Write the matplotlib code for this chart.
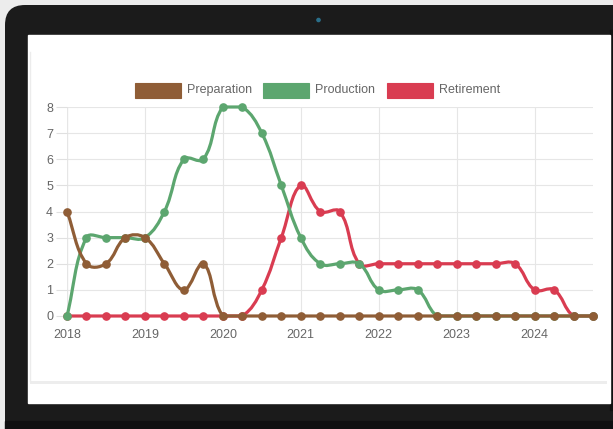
import matplotlib.pyplot as plt
import numpy as np
import pandas as pd
from matplotlib.path import Path
from matplotlib.patches import PathPatch, FancyBboxPatch, Rectangle, Circle

plt.rcParams['font.family'] = ['Liberation Sans', 'DejaVu Sans']

# Quarterly periods 2018Q1 .. 2024Q4
quarters = pd.period_range('2018Q1', '2024Q4', freq='Q')
x = quarters.year + (quarters.quarter - 1) / 4.0

preparation = [4, 2, 2, 3, 3, 2, 1, 2, 0, 0, 0, 0, 0, 0, 0, 0,
               0, 0, 0, 0, 0, 0, 0, 0, 0, 0, 0, 0]
production = [0, 3, 3, 3, 3, 4, 6, 6, 8, 8, 7, 5, 3, 2, 2, 2,
              1, 1, 1, 0, 0, 0, 0, 0, 0, 0, 0, 0]
retirement = [0, 0, 0, 0, 0, 0, 0, 0, 0, 0, 1, 3, 5, 4, 4, 2,
              2, 2, 2, 2, 2, 2, 2, 2, 1, 1, 0, 0]

series = [('Preparation', preparation, '#8f5d36'),
          ('Production', production, '#5ca66f'),
          ('Retirement', retirement, '#d93c51')]
year_ticks = [2018, 2019, 2020, 2021, 2022, 2023, 2024]

W, H = 613, 429
fig = plt.figure(figsize=(W / 100, H / 100), dpi=100)

# background: laptop frame in pixel coords
bg = fig.add_axes([0, 0, 1, 1])
bg.set_xlim(0, W)
bg.set_ylim(H, 0)
bg.axis('off')
bg.add_patch(Rectangle((0, 0), W, H, color='#ececec'))
bg.add_patch(FancyBboxPatch((5, 5), W + 40, 440, boxstyle='round,pad=0,rounding_size=20',
                            fc='#1b1b1b', ec='none'))
bg.add_patch(Rectangle((5, 421), W, 10, color='#0f0f10'))
bg.add_patch(Rectangle((610, 30), 4, 380, color='#111111'))
bg.add_patch(Circle((318.5, 20), 1.6, color='#2a6f8a'))
bg.add_patch(Rectangle((28, 35), 582, 368, color='white'))
# card outline
bg.plot([30, 30], [52, 381], color='#ececec', lw=1)
bg.add_patch(Rectangle((30, 380.5), 577, 3, color='#ededed', lw=0))

# legend
legend_boxes = [(135, 187), (263, 315), (387, 439)]
for (name, vals, col), (bx, tx) in zip(series, legend_boxes):
    bg.add_patch(Rectangle((bx, 83), 46, 15, fc=col, ec=col, lw=0.8))
    bg.text(tx, 90, name, fontsize=9, color='#666666', va='center', ha='left')

# plot area
x0, x1 = 2018, 2024.75
ax = fig.add_axes([67 / W, (H - 316) / H, 526 / W, 209 / H])
ax.set_xlim(x0, x1)
ax.set_ylim(0, 8)
sx = 526 / (x1 - x0)
sy = 209 / 8.0


def bezier_path(xs, ys, t=0.4):
    px = np.asarray(xs, float) * sx
    py = np.asarray(ys, float) * sy
    n = len(px)
    cps = []
    for i in range(n):
        pp = (px[max(i - 1, 0)], py[max(i - 1, 0)])
        pn = (px[min(i + 1, n - 1)], py[min(i + 1, n - 1)])
        d01 = np.hypot(px[i] - pp[0], py[i] - pp[1])
        d12 = np.hypot(pn[0] - px[i], pn[1] - py[i])
        tot = d01 + d12
        s01 = d01 / tot if tot else 0
        s12 = d12 / tot if tot else 0
        fa, fb = t * s01, t * s12
        prev_cp = [px[i] - fa * (pn[0] - pp[0]), py[i] - fa * (pn[1] - pp[1])]
        next_cp = [px[i] + fb * (pn[0] - pp[0]), py[i] + fb * (pn[1] - pp[1])]
        for c in (prev_cp, next_cp):
            c[0] = min(max(c[0], x0 * sx), x1 * sx)
            c[1] = min(max(c[1], 0), 8 * sy)
        cps.append((prev_cp, next_cp))
    verts = [(px[0], py[0])]
    codes = [Path.MOVETO]
    for i in range(n - 1):
        verts += [tuple(cps[i][1]), tuple(cps[i + 1][0]), (px[i + 1], py[i + 1])]
        codes += [Path.CURVE4] * 3
    verts = [(a / sx, b / sy) for a, b in verts]
    return Path(verts, codes)


for z, (name, vals, col) in zip([5, 4, 3], series):
    ax.add_patch(PathPatch(bezier_path(x, vals), fc='none', ec=col, lw=2.3,
                           zorder=z, clip_on=False, capstyle='round'))
    ax.plot(x, vals, 'o', color=col, ms=5.2, zorder=z, clip_on=False)

ax.set_yticks(range(0, 9))
ax.set_xticks(year_ticks)
ax.set_xticklabels([str(y) for y in year_ticks])
ax.grid(True, color='#e6e6e6', lw=0.8)
ax.set_axisbelow(True)
for s in ax.spines.values():
    s.set_visible(False)
ax.tick_params(axis='both', colors='#e0e0e0', labelcolor='#666666',
               labelsize=9, length=8, width=0.8)
ax.tick_params(axis='x', length=0, pad=9)
ax.tick_params(axis='y', pad=2)
ax.axvline(x0, color='#d6d6d6', lw=0.8, zorder=0)

fig.savefig('out.png', dpi=100)
